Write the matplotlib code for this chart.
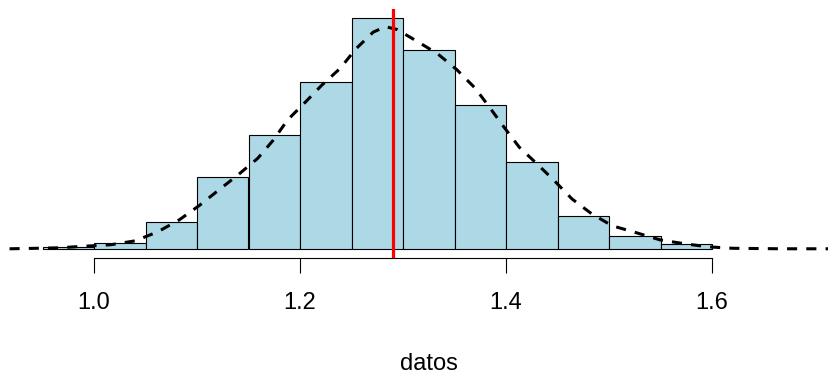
import numpy as np
import matplotlib
matplotlib.use("Agg")
import matplotlib.pyplot as plt

# Histogram bins and counts
bin_edges = [0.95, 1.00, 1.05, 1.10, 1.15, 1.20, 1.25, 1.30, 1.35, 1.40, 1.45, 1.50, 1.55, 1.60]
counts = [2, 5, 24, 65, 104, 152, 210, 181, 131, 79, 30, 12, 4]

# Density curve
dens_x = [0.918, 0.945, 0.967, 0.989, 1.016, 1.040, 1.062, 1.083, 1.103, 1.121,
          1.140, 1.159, 1.174, 1.188, 1.205, 1.221, 1.239, 1.254, 1.271, 1.283, 1.294,
          1.314, 1.334, 1.352, 1.370, 1.384, 1.398, 1.413, 1.430, 1.447, 1.464, 1.483,
          1.503, 1.527, 1.550, 1.574, 1.596, 1.620, 1.666, 1.720]
dens_y = [0.0, 0.009, 0.018, 0.045, 0.073, 0.145, 0.31, 0.53, 0.80, 1.07,
          1.35, 1.65, 1.98, 2.35, 2.67, 2.98, 3.29, 3.64, 3.95, 4.05, 4.00,
          3.78, 3.55, 3.27, 2.93, 2.58, 2.22, 1.85, 1.55, 1.24, 0.91, 0.64,
          0.42, 0.29, 0.16, 0.09, 0.036, 0.009, 0.0, 0.0]

mean_value = 1.2905
x_ticks = [1.0, 1.2, 1.4, 1.6]
x_tick_labels = ["1.0", "1.2", "1.4", "1.6"]
x_label = "datos"

plt.rcParams['font.family'] = ['Liberation Sans', 'DejaVu Sans']

W, H = 829, 375
fig = plt.figure(figsize=(W / 100, H / 100), dpi=100)
ax = fig.add_axes([0.0, (H - 258) / H, 1.0, (258 - 9) / H])

edges = np.array(bin_edges)
cnt = np.array(counts, dtype=float)
widths = np.diff(edges)
density = cnt / (cnt.sum() * widths)

ax.bar(edges[:-1], density, width=widths, align='edge', color='#ADD8E6',
       edgecolor='black', linewidth=0.8, zorder=2)
ax.plot(dens_x, dens_y, color='black', lw=2.2, linestyle=(0, (3.3, 3.0)), zorder=3,
        solid_capstyle='butt', dash_capstyle='butt')
ax.axvline(mean_value, color='red', lw=2.3, zorder=4)

m = density.max()
ax.set_ylim(-0.04 * m, 1.04 * m)
x0 = 1.0 - 94 / 1030
x1 = 1.0 + (W - 94) / 1030
ax.set_xlim(x0, x1)

for s in ['top', 'right', 'left']:
    ax.spines[s].set_visible(False)
ax.spines['bottom'].set_bounds(1.0, 1.6)
ax.spines['bottom'].set_linewidth(0.8)
ax.set_yticks([])
ax.set_xticks(x_ticks)
ax.set_xticklabels(x_tick_labels, fontsize=17)
ax.tick_params(axis='x', length=10.8, width=0.8, pad=13.5, colors='black')
ax.patch.set_alpha(0)

fig.text(429 / W, 1 - 370 / H, x_label, ha='center', va='baseline', fontsize=17)

fig.savefig("out.png", dpi=100)
